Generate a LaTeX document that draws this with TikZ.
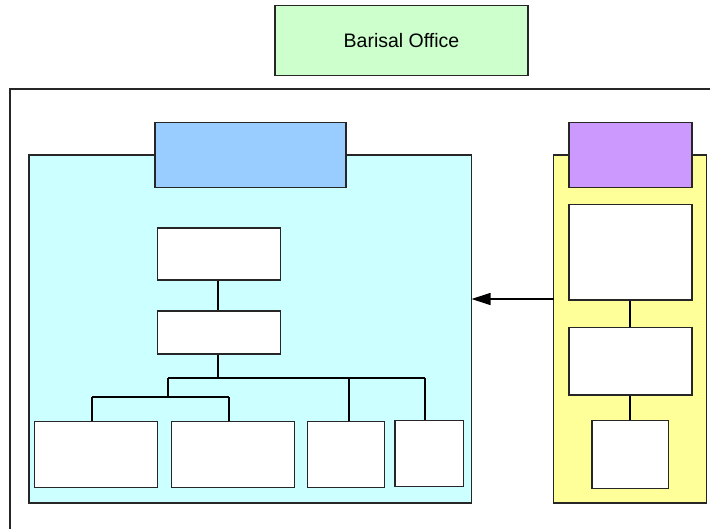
\documentclass[tikz,border=0pt]{standalone}
\usepackage{fontspec}
\setmainfont{Liberation Sans}
\usetikzlibrary{arrows.meta}
\definecolor{officegreen}{HTML}{CCFFCC}
\definecolor{panelcyan}{HTML}{CCFFFF}
\definecolor{panelyellow}{HTML}{FFFF99}
\definecolor{headblue}{HTML}{99CCFF}
\definecolor{headpurple}{HTML}{CC99FF}
\tikzset{
  frame/.style={draw=black!85, line width=1.2pt},
  unit/.style={frame, fill=white, inner sep=0pt},
  link/.style={draw=black, line width=1.2pt},
}
\begin{document}
\begin{tikzpicture}[x=1pt, y=-1pt]
\useasboundingbox (0,0) rectangle (710,529);
% outer enclosure, open to the right and bottom
\draw[frame] (10,530) -- (10,89) -- (711,89);
% panels
\path[frame, fill=panelcyan] (29,155) rectangle (471.5,503);
\path[frame, fill=panelyellow] (553.5,155) rectangle (706.5,503);
\node[frame, fill=officegreen, minimum width=253pt, minimum height=70pt, inner sep=0pt]
  (office) at (401.5,40.5) {\fontsize{19.5}{22}\selectfont Barisal Office};
% panel headers
\node[frame, fill=headblue, minimum width=191pt, minimum height=65pt, inner sep=0pt] (hleft) at (250.5,155) {};
\node[frame, fill=headpurple, minimum width=123pt, minimum height=65pt, inner sep=0pt] (hright) at (630.5,155) {};
% left panel units
\node[unit, minimum width=123pt, minimum height=52pt] (l1) at (218.7,254) {};
\node[unit, minimum width=123pt, minimum height=43pt] (l2) at (218.7,332.5) {};
\node[unit, minimum width=123pt, minimum height=65.5pt] (a) at (96.2,454.5) {};
\node[unit, minimum width=123pt, minimum height=65.5pt] (b) at (232.8,454.5) {};
\node[unit, minimum width=76.6pt, minimum height=65.5pt] (c) at (346,454.5) {};
\node[unit, minimum width=68.3pt, minimum height=66pt] (d) at (429.2,453.7) {};
% right panel units
\node[unit, minimum width=123pt, minimum height=95.7pt] (r1) at (630.5,252.2) {};
\node[unit, minimum width=123pt, minimum height=67.3pt] (r2) at (630.5,361.3) {};
\node[unit, minimum width=76.7pt, minimum height=67.6pt] (r3) at (630.3,454.5) {};
% branch points of the tree
\coordinate (j1) at (218,378);
\coordinate (j2) at (168,397);
\coordinate (ja) at (92,397);
\coordinate (jb) at (229,397);
\coordinate (jc) at (349,378);
\coordinate (jd) at (425,378);
\coordinate (jr) at (630,0);
% connectors inside the left panel
\draw[link] (l1.south -| j1) -- (l2.north -| j1);
\draw[link] (l2.south -| j1) -- (j1);
\draw[link] (j1 -| j2) -- (jd);
\draw[link] (j1 -| j2) -- (j2);
\draw[link] (ja) -- (jb);
\draw[link] (ja) -- (a.north -| ja);
\draw[link] (jb) -- (b.north -| jb);
\draw[link] (jc) -- (c.north -| jc);
\draw[link] (jd) -- (d.north -| jd);
% connectors inside the right panel
\draw[link] (r1.south -| jr) -- (r2.north -| jr);
\draw[link] (r2.south -| jr) -- (r3.north -| jr);
% reporting arrow between panels
\coordinate (cy) at (553.5,299);
\coordinate (cx) at (471.5,299);
\draw[link, -{Triangle[length=19pt, width=12pt]}] (cy) -- (cx);
\end{tikzpicture}
\end{document}
